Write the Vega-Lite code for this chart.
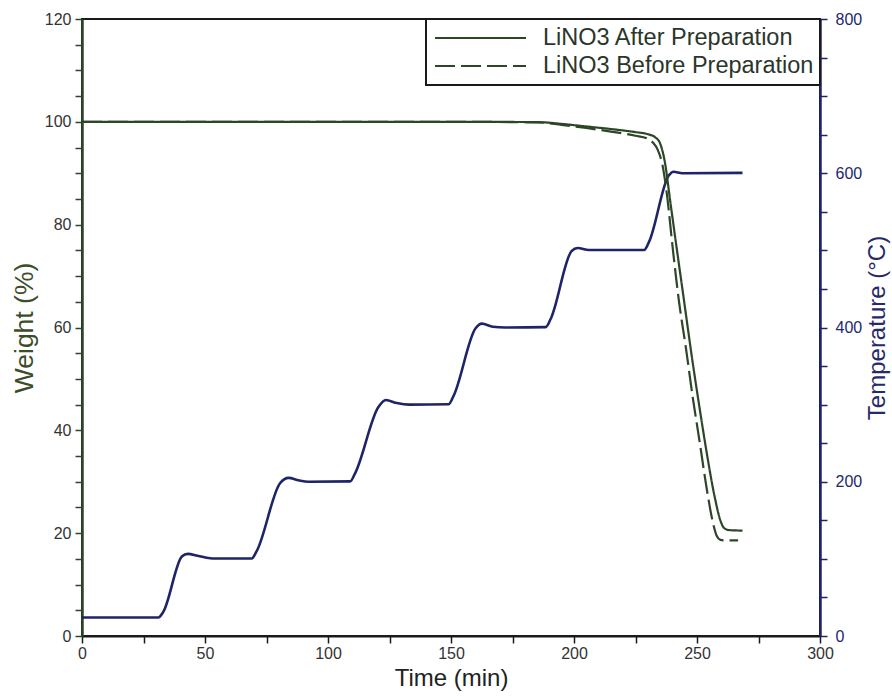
{
  "$schema": "https://vega.github.io/schema/vega-lite/v6.json",
  "width": 738,
  "height": 617,
  "autosize": {"type": "none"},
  "padding": {"left": 82, "top": 19, "right": 72, "bottom": 60},
  "background": "white",
  "config": {
    "font": "Liberation Sans",
    "view": {"stroke": "#1a1a1a", "strokeWidth": 2}
  },
  "datasets": {
    "temperature": [
      {"time": 0, "temp": 24}, {"time": 31, "temp": 24}, {"time": 33, "temp": 31},
      {"time": 40.6, "temp": 103}, {"time": 43, "temp": 106.5}, {"time": 47, "temp": 104},
      {"time": 53, "temp": 100.5}, {"time": 69, "temp": 100.5}, {"time": 71, "temp": 110},
      {"time": 80.5, "temp": 198}, {"time": 84, "temp": 205}, {"time": 88, "temp": 202},
      {"time": 92, "temp": 200}, {"time": 109, "temp": 200.5}, {"time": 111, "temp": 211},
      {"time": 120.5, "temp": 297}, {"time": 123.5, "temp": 306}, {"time": 128, "temp": 302},
      {"time": 133, "temp": 300}, {"time": 149, "temp": 300.5}, {"time": 151, "temp": 311},
      {"time": 160, "temp": 399}, {"time": 162.5, "temp": 405}, {"time": 167, "temp": 401},
      {"time": 172, "temp": 400}, {"time": 188.5, "temp": 400.5}, {"time": 190.5, "temp": 411},
      {"time": 199, "temp": 499}, {"time": 201.5, "temp": 503}, {"time": 206, "temp": 500.5},
      {"time": 228.5, "temp": 500.5}, {"time": 230.5, "temp": 511}, {"time": 238.5, "temp": 597},
      {"time": 240.5, "temp": 602}, {"time": 244, "temp": 600}, {"time": 268.5, "temp": 600.5}
    ],
    "weight": [
      {"sample": "LiNO3 After Preparation", "time": 0, "weight": 100},
      {"sample": "LiNO3 After Preparation", "time": 150, "weight": 100},
      {"sample": "LiNO3 After Preparation", "time": 185, "weight": 99.95},
      {"sample": "LiNO3 After Preparation", "time": 195, "weight": 99.6},
      {"sample": "LiNO3 After Preparation", "time": 205, "weight": 99.1},
      {"sample": "LiNO3 After Preparation", "time": 215, "weight": 98.6},
      {"sample": "LiNO3 After Preparation", "time": 225, "weight": 98.0},
      {"sample": "LiNO3 After Preparation", "time": 230, "weight": 97.6},
      {"sample": "LiNO3 After Preparation", "time": 233, "weight": 97.0},
      {"sample": "LiNO3 After Preparation", "time": 235, "weight": 95.8},
      {"sample": "LiNO3 After Preparation", "time": 237, "weight": 92},
      {"sample": "LiNO3 After Preparation", "time": 239, "weight": 85},
      {"sample": "LiNO3 After Preparation", "time": 241, "weight": 78},
      {"sample": "LiNO3 After Preparation", "time": 244.5, "weight": 66},
      {"sample": "LiNO3 After Preparation", "time": 248, "weight": 54},
      {"sample": "LiNO3 After Preparation", "time": 251, "weight": 44.5},
      {"sample": "LiNO3 After Preparation", "time": 254, "weight": 35.5},
      {"sample": "LiNO3 After Preparation", "time": 257, "weight": 27.5},
      {"sample": "LiNO3 After Preparation", "time": 259.5, "weight": 22.5},
      {"sample": "LiNO3 After Preparation", "time": 261, "weight": 21},
      {"sample": "LiNO3 After Preparation", "time": 263, "weight": 20.6},
      {"sample": "LiNO3 After Preparation", "time": 268.5, "weight": 20.5},
      {"sample": "LiNO3 Before Preparation", "time": 0, "weight": 100},
      {"sample": "LiNO3 Before Preparation", "time": 150, "weight": 100},
      {"sample": "LiNO3 Before Preparation", "time": 185, "weight": 99.9},
      {"sample": "LiNO3 Before Preparation", "time": 195, "weight": 99.4},
      {"sample": "LiNO3 Before Preparation", "time": 205, "weight": 98.8},
      {"sample": "LiNO3 Before Preparation", "time": 215, "weight": 98.1},
      {"sample": "LiNO3 Before Preparation", "time": 225, "weight": 97.3},
      {"sample": "LiNO3 Before Preparation", "time": 229.6, "weight": 96.8},
      {"sample": "LiNO3 Before Preparation", "time": 232, "weight": 96.0},
      {"sample": "LiNO3 Before Preparation", "time": 234, "weight": 94.6},
      {"sample": "LiNO3 Before Preparation", "time": 236, "weight": 91.5},
      {"sample": "LiNO3 Before Preparation", "time": 238, "weight": 85},
      {"sample": "LiNO3 Before Preparation", "time": 240, "weight": 76},
      {"sample": "LiNO3 Before Preparation", "time": 242.7, "weight": 65},
      {"sample": "LiNO3 Before Preparation", "time": 245.5, "weight": 56},
      {"sample": "LiNO3 Before Preparation", "time": 248.4, "weight": 46},
      {"sample": "LiNO3 Before Preparation", "time": 251, "weight": 38},
      {"sample": "LiNO3 Before Preparation", "time": 254, "weight": 28.5},
      {"sample": "LiNO3 Before Preparation", "time": 256.5, "weight": 22},
      {"sample": "LiNO3 Before Preparation", "time": 258, "weight": 19.5},
      {"sample": "LiNO3 Before Preparation", "time": 259.5, "weight": 18.7},
      {"sample": "LiNO3 Before Preparation", "time": 261, "weight": 18.6},
      {"sample": "LiNO3 Before Preparation", "time": 266.7, "weight": 18.6}
    ]
  },
  "layer": [
    {
      "data": {"name": "temperature"},
      "mark": {"type": "line", "color": "#1f2467", "strokeWidth": 2.6, "interpolate": "monotone"},
      "encoding": {
        "x": {
          "field": "time", "type": "quantitative",
          "scale": {"domain": [0, 300], "nice": false, "zero": false},
          "axis": {
            "orient": "bottom",
            "title": "Time (min)",
            "values": [0, 12.5, 25, 37.5, 50, 62.5, 75, 87.5, 100, 112.5, 125, 137.5, 150, 162.5, 175, 187.5, 200, 212.5, 225, 237.5, 250, 262.5, 275, 287.5, 300],
            "labelExpr": "datum.value % 50 === 0 ? datum.label : ''",
            "ticks": true,
            "tickSize": 7,
            "encode": {"ticks": {"update": {"y2": {"signal": "datum.value % 50 === 0 ? 7 : 4"}}}},
            "grid": false,
            "labelOverlap": false,
            "labelFlush": false,
            "domainColor": "#1a1a1a",
            "domainWidth": 2,
            "tickColor": "#1a1a1a",
            "tickWidth": 1.5,
            "labelFontSize": 16,
            "labelColor": "#333333",
            "labelPadding": 2,
            "titleFontSize": 24,
            "titleFontWeight": "normal",
            "titleColor": "#222222",
            "titlePadding": 5
          }
        },
        "y": {
          "field": "temp", "type": "quantitative",
          "scale": {"domain": [0, 800], "nice": false},
          "axis": {
            "orient": "right",
            "title": "Temperature (°C)",
            "titleAngle": 270,
            "titleBaseline": "top",
            "values": [0, 50, 100, 150, 200, 250, 300, 350, 400, 450, 500, 550, 600, 650, 700, 750, 800],
            "labelExpr": "datum.value % 200 === 0 ? datum.label : ''",
            "ticks": true,
            "tickSize": 7,
            "encode": {"ticks": {"update": {"x2": {"signal": "datum.value % 200 === 0 ? 7 : 4"}}}},
            "grid": false,
            "labelOverlap": false,
            "labelFlush": false,
            "domainColor": "#1f2467",
            "domainWidth": 2.5,
            "tickColor": "#1f2467",
            "tickWidth": 1.5,
            "labelFontSize": 16,
            "labelColor": "#23286e",
            "labelPadding": 8,
            "titleFontSize": 24,
            "titleFontWeight": "normal",
            "titleColor": "#262a6b",
            "titlePadding": 4
          }
        }
      }
    },
    {
      "data": {"name": "weight"},
      "mark": {"type": "line", "strokeWidth": 2.2, "interpolate": "monotone"},
      "encoding": {
        "x": {"field": "time", "type": "quantitative"},
        "y": {
          "field": "weight", "type": "quantitative",
          "scale": {"domain": [0, 120], "nice": false},
          "axis": {
            "orient": "left",
            "title": "Weight (%)",
            "values": [0, 5, 10, 15, 20, 25, 30, 35, 40, 45, 50, 55, 60, 65, 70, 75, 80, 85, 90, 95, 100, 105, 110, 115, 120],
            "labelExpr": "datum.value % 20 === 0 ? datum.label : ''",
            "ticks": true,
            "tickSize": 7,
            "encode": {"ticks": {"update": {"x2": {"signal": "datum.value % 20 === 0 ? -7 : -4"}}}},
            "grid": false,
            "labelOverlap": false,
            "labelFlush": false,
            "domainColor": "#2d4628",
            "domainWidth": 2.5,
            "tickColor": "#2d4628",
            "tickWidth": 1.5,
            "labelFontSize": 16,
            "labelColor": "#333333",
            "labelPadding": 4,
            "titleFontSize": 26.5,
            "titleFontWeight": "normal",
            "titleColor": "#3b4d2b",
            "titlePadding": 6
          }
        },
        "color": {
          "field": "sample", "type": "nominal",
          "scale": {"domain": ["LiNO3 After Preparation", "LiNO3 Before Preparation"], "range": ["#2d4628", "#2d4628"]},
          "legend": {
            "title": null, "orient": "top-right", "offset": 0,
            "symbolType": "stroke", "symbolSize": 8281, "symbolStrokeWidth": 2,
            "clipHeight": 26, "labelFontSize": 23.5, "labelColor": "#2b362b",
            "labelOffset": 16, "labelLimit": 400, "symbolOffset": 2,
            "strokeColor": "#1a1a1a", "fillColor": "white", "padding": 6,
            "encode": {"legend": {"update": {"strokeWidth": {"value": 2}}}}
          }
        },
        "strokeDash": {
          "field": "sample", "type": "nominal",
          "scale": {"domain": ["LiNO3 After Preparation", "LiNO3 Before Preparation"], "range": [[1, 0], [20, 6]]},
          "legend": {
            "title": null, "orient": "top-right", "offset": 0,
            "symbolType": "stroke", "symbolSize": 8281, "symbolStrokeWidth": 2,
            "clipHeight": 26, "labelFontSize": 23.5, "labelColor": "#2b362b",
            "labelOffset": 16, "labelLimit": 400, "symbolOffset": 2,
            "strokeColor": "#1a1a1a", "fillColor": "white", "padding": 6,
            "encode": {"legend": {"update": {"strokeWidth": {"value": 2}}}}
          }
        }
      }
    }
  ],
  "resolve": {"scale": {"y": "independent"}}
}
